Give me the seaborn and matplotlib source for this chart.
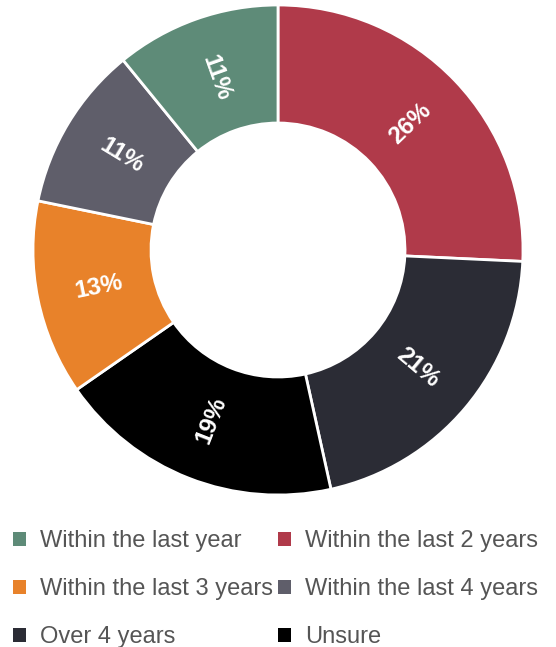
import numpy as np
import matplotlib
matplotlib.use("Agg")
import matplotlib.pyplot as plt
import matplotlib.patches as mpatches
import seaborn as sns

# Survey answers, in legend order
categories = [
    "Within the last year",
    "Within the last 2 years",
    "Within the last 3 years",
    "Within the last 4 years",
    "Over 4 years",
    "Unsure",
]
values = [11, 26, 13, 11, 21, 19]
colors = ["#5E8B78", "#B03A4A", "#E8822A", "#5F5E6A", "#2B2C35", "#000000"]

# Wedges run clockwise from 12 o'clock in this order
wedge_order = [1, 4, 5, 2, 3, 0]

sns.set_theme(style="white")
plt.rcParams["font.family"] = ["Liberation Sans", "DejaVu Sans"]
palette = sns.color_palette(colors)

W, H, DPI = 556, 647, 100
fig = plt.figure(figsize=(W / DPI, H / DPI), dpi=DPI)

cx, cy, R = 278, 250, 245
ax = fig.add_axes([(cx - R) / W, (H - cy - R) / H, 2 * R / W, 2 * R / H])

ordered_vals = [values[i] for i in wedge_order]
ordered_cols = [palette[i] for i in wedge_order]

ring = 1 - 127 / 245
wedges, _ = ax.pie(
    ordered_vals,
    colors=ordered_cols,
    startangle=90,
    counterclock=False,
    radius=1.0,
    wedgeprops=dict(width=ring, edgecolor="white", linewidth=2),
)
ax.set_xlim(-1, 1)
ax.set_ylim(-1, 1)
ax.set_aspect("equal")
ax.axis("off")

# Percentage labels set radially in the middle of each ring segment
label_r = 0.745
for w, v in zip(wedges, ordered_vals):
    mid = np.deg2rad((w.theta1 + w.theta2) / 2)
    x, y = label_r * np.cos(mid), label_r * np.sin(mid)
    rot = np.rad2deg(mid)
    rot = (rot + 180) % 360 - 180
    if rot > 90:
        rot -= 180
    elif rot < -90:
        rot += 180
    ax.text(x, y, f"{v}%", ha="center", va="center", rotation=rot,
            rotation_mode="anchor", color="white", fontsize=17.5,
            fontweight="bold")

# Legend in two columns beneath the ring, filled row by row
row_major = [0, 2, 4, 1, 3, 5]
handles = [mpatches.Patch(facecolor=palette[i], edgecolor="none")
           for i in row_major]
labels = [categories[i] for i in row_major]
leg = fig.legend(
    handles, labels,
    loc="upper left",
    bbox_to_anchor=(13 / W, 1 - 530 / H),
    ncol=2,
    frameon=False,
    fontsize=17,
    handlelength=0.55,
    handleheight=0.55,
    handletextpad=0.6,
    columnspacing=0.2,
    labelspacing=1.11,
    borderaxespad=0.0,
    borderpad=0.0,
)
for t in leg.get_texts():
    t.set_color("#555555")

fig.savefig("out.png", dpi=DPI)
